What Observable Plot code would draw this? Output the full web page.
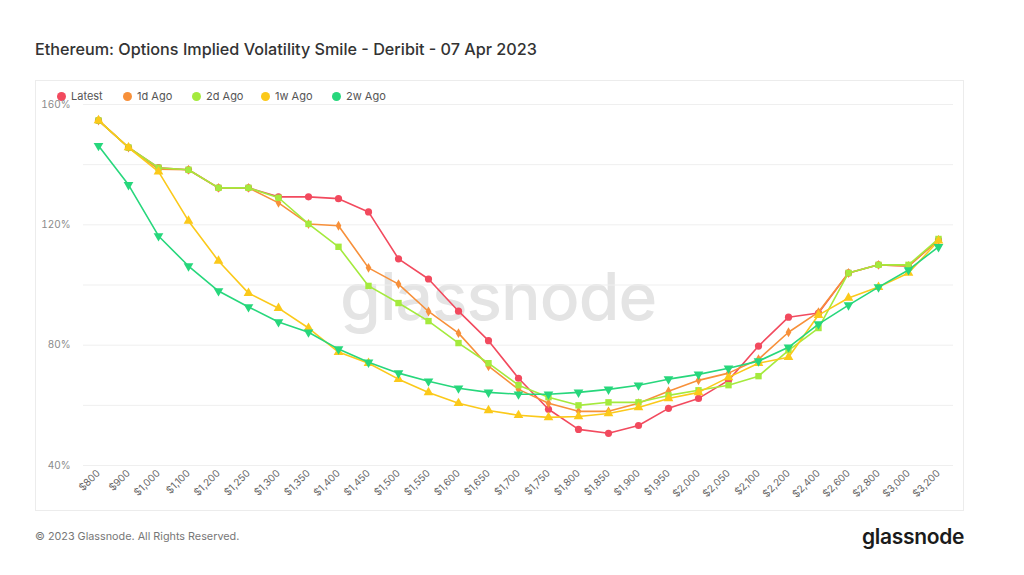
<!DOCTYPE html>
<html>
<head>
<meta charset="utf-8">
<script src="https://cdn.jsdelivr.net/npm/d3@7"></script>
<script src="https://cdn.jsdelivr.net/npm/@observablehq/plot@0.6"></script>
<style>
  html, body { margin: 0; padding: 0; background: #fff; }
  body { width: 1024px; height: 575px; overflow: hidden; font-family: Inter, "Noto Sans", sans-serif; }
  #wrap { position: relative; width: 1024px; height: 575px; }
  #title { position: absolute; left: 35px; top: 39px; font-size: 16.2px; font-weight: 500; color: #333; white-space: nowrap; }
  #box { position: absolute; left: 35px; top: 80px; width: 929px; height: 431px; border: 1px solid #ececec; box-sizing: border-box; }
  #legend { position: absolute; left: 57px; top: 89px; display: flex; font-size: 11px; color: #555; }
  #legend .item { display: flex; align-items: center; margin-right: 0; }
  #legend .sw { width: 9px; height: 9px; border-radius: 50%; margin-right: 5px; }
  #watermark { position: absolute; left: 340px; top: 256px; font-size: 66px; font-weight: 500; color: #e4e4e4; letter-spacing: -1px; }
  #chart { position: absolute; left: 0; top: 0; }
  #footer { position: absolute; left: 35px; top: 530px; font-size: 10.8px; color: #777; }
  #logo { position: absolute; left: 862px; top: 524px; font-size: 21px; font-weight: 600; color: #1b1b1b; letter-spacing: -0.3px; }
</style>
</head>
<body>
<div id="wrap">
  <div id="title">Ethereum: Options Implied Volatility Smile - Deribit - 07 Apr 2023</div>
  <div id="box"></div>
  <div id="watermark">glassnode</div>
  <div id="legend"></div>
  <div id="chart"></div>
  <div id="footer">© 2023 Glassnode. All Rights Reserved.</div>
  <div id="logo">glassnode</div>
</div>
<script>
const strikes = ["$800","$900","$1,000","$1,100","$1,200","$1,250","$1,300","$1,350","$1,400","$1,450","$1,500","$1,550","$1,600","$1,650","$1,700","$1,750","$1,800","$1,850","$1,900","$1,950","$2,000","$2,050","$2,100","$2,200","$2,400","$2,600","$2,800","$3,000","$3,200"];

const seriesNames = ["Latest", "1d Ago", "2d Ago", "1w Ago", "2w Ago"];
const seriesColors = ["#f24a5e", "#f7903a", "#a4ea3d", "#fbc91a", "#27d77c"];
const seriesSymbols = ["circle", "diamond", "square", "triangle", "triangle"];

const latest = [154.7,145.7,139,138.3,132.3,132.3,129.3,129.3,128.7,124.3,108.7,102,91.3,81.5,69,58.7,52,50.7,53.3,59,62.3,68.3,79.7,89.3,90.7,104,106.7,106.3,115];
const ago1d  = [154.7,145.7,138.5,138.3,132.3,132.3,127.3,120.3,119.7,105.7,100.3,91.2,84,73,65.3,60.7,58,58,60.7,64.7,68.3,70.7,75.3,84.3,91,104,106.7,106.3,115];
const ago2d  = [154.7,145.7,139,138.3,132.3,132.3,129,120.3,112.7,99.7,94,88,80.7,74,66.7,62.7,60,61,61,63.3,65,66.7,69.7,78.3,85.7,104,106.7,106.7,115.3];
const ago1w  = [154.7,145.7,137.7,121.3,108,97.3,92.3,85.7,77.7,74,68.7,64.3,60.7,58.3,56.7,56,56.3,57.3,59.3,62.3,64.3,69.3,74,76,90,95.7,99.3,104,114.7];
const ago2w  = [146.3,133.3,116.3,106.3,98,92.7,87.7,84.3,78.7,74.3,70.7,68,65.7,64.3,63.7,63.7,64.3,65.3,66.7,68.7,70.3,72.3,74.7,79.3,87,93.3,99.3,105,112.7];

const gridValues = [40, 60, 80, 100, 120, 140, 160];
const yTicks = [40, 80, 120, 160];

const allSeries = [latest, ago1d, ago2d, ago1w, ago2w];
const rows = [];
allSeries.forEach((vals, si) => {
  vals.forEach((v, i) => rows.push({strike: strikes[i], value: v, series: seriesNames[si]}));
});

// legend
const legend = document.getElementById("legend");
const legendWidths = [66, 69, 69, 71, 70];
seriesNames.forEach((n, i) => {
  const it = document.createElement("div");
  it.className = "item";
  it.style.width = legendWidths[i] + "px";
  const sw = document.createElement("span");
  sw.className = "sw";
  sw.style.background = seriesColors[i];
  const tx = document.createElement("span");
  tx.textContent = n;
  it.appendChild(sw); it.appendChild(tx);
  legend.appendChild(it);
});

const marks = [
  Plot.ruleY(gridValues, {stroke: "#efefef", strokeWidth: 1}),
  Plot.axisY({ticks: yTicks, tickSize: 0, tickPadding: 13, tickFormat: d => d + "%", fontSize: 10, fill: "#8a8a8a", label: null}),
  Plot.axisX({tickSize: 0, tickRotate: -45, tickPadding: 6, fontSize: 10, fill: "#666", label: null})
];
seriesNames.forEach((n, si) => {
  const data = rows.filter(r => r.series === n);
  marks.push(Plot.line(data, {x: "strike", y: "value", stroke: seriesColors[si], strokeWidth: 1.6}));
  marks.push(Plot.dot(data, {
    x: "strike", y: "value",
    symbol: seriesSymbols[si],
    r: si === 1 ? 3 : 3.6,
    fill: seriesColors[si],
    stroke: "none",
    rotate: si === 4 ? 180 : 0
  }));
});

const chart = Plot.plot({
  width: 1024,
  height: 575,
  marginLeft: 83,
  marginRight: 71,
  marginTop: 104,
  marginBottom: 110,
  style: {background: "transparent", fontFamily: "Inter, 'Noto Sans', sans-serif"},
  x: {type: "point", domain: strikes, padding: 0.5},
  y: {domain: [40, 160]},
  marks
});
document.getElementById("chart").appendChild(chart);
</script>
</body>
</html>
